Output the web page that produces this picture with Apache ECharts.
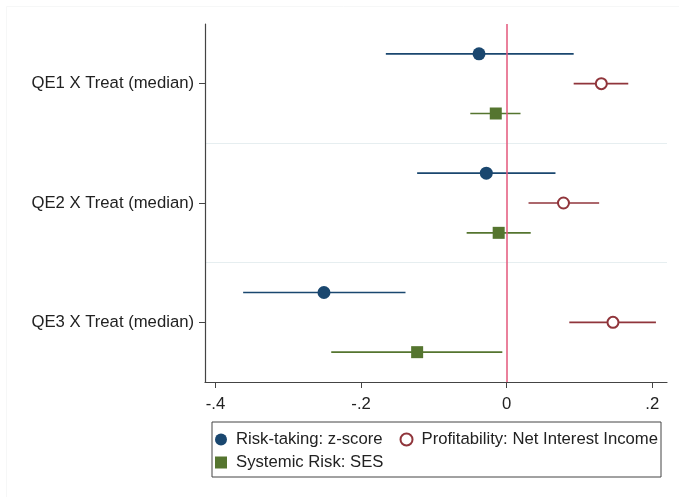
<!DOCTYPE html>
<html>
<head>
<meta charset="utf-8">
<script src="https://cdn.jsdelivr.net/npm/echarts@6/dist/echarts.min.js"></script>
<style>
  html, body { margin: 0; padding: 0; background: #fff; }
  #main { width: 679px; height: 497px; }
</style>
</head>
<body>
<div id="main"></div>
<script>
// categories (top to bottom)
const categories = ['QE1 X Treat (median)', 'QE2 X Treat (median)', 'QE3 X Treat (median)'];

// Risk-taking: z-score
const zEst = [-0.038, -0.028, -0.251];
const zLo = [-0.166, -0.123, -0.362];
const zHi = [0.092, 0.067, -0.139];

// Profitability: Net Interest Income
const niiEst = [0.130, 0.078, 0.146];
const niiLo = [0.092, 0.030, 0.086];
const niiHi = [0.167, 0.127, 0.205];

// Systemic Risk: SES
const sesEst = [-0.015, -0.011, -0.123];
const sesLo = [-0.050, -0.055, -0.241];
const sesHi = [0.019, 0.033, -0.006];

const xTicks = [-0.4, -0.2, 0, 0.2];
const xTickLabels = ['-.4', '-.2', '0', '.2'];

const FONT = '"Liberation Sans", Arial, sans-serif';
const FS = 16.7;
const NAVY = '#1a476f';
const MAROON = '#90353b';
const GREEN = '#55752f';

// y position of category i, shifted for each series
const yPos = (i, off) => i + 1 + off;

const ciData = (lo, hi, off) => lo.map((v, i) => [v, hi[i], yPos(i, off)]);
const ptData = (est, off) => est.map((v, i) => [v, yPos(i, off)]);

const ciSeries = (lo, hi, off, color) => ({
  type: 'custom',
  silent: true,
  z: 2,
  encode: { x: [0, 1], y: 2 },
  data: ciData(lo, hi, off),
  renderItem: (params, api) => {
    const y = api.value(2);
    const p1 = api.coord([api.value(0), y]);
    const p2 = api.coord([api.value(1), y]);
    return {
      type: 'line',
      shape: { x1: p1[0], y1: p1[1], x2: p2[0], y2: p2[1] },
      style: { stroke: color, lineWidth: 1.6 }
    };
  }
});

const chart = echarts.init(document.getElementById('main'));

chart.setOption({
  animation: false,
  backgroundColor: '#fff',
  textStyle: { fontFamily: FONT },
  grid: { left: 205, right: 12, top: 24, bottom: 115 },
  xAxis: {
    type: 'value',
    z: 10,
    min: -0.4144,
    max: 0.2202,
    axisLine: { show: true, onZero: false, lineStyle: { color: '#444', width: 1.2 } },
    axisTick: { show: true, length: 6, customValues: xTicks, lineStyle: { color: '#444' } },
    axisLabel: {
      customValues: xTicks,
      margin: 14,
      fontSize: FS,
      color: '#222',
      fontFamily: FONT,
      formatter: (v) => xTickLabels[xTicks.findIndex((t) => Math.abs(t - v) < 1e-9)]
    },
    splitLine: { show: false }
  },
  yAxis: {
    type: 'value',
    z: 10,
    min: 0.5,
    max: 3.5,
    inverse: true,
    axisLine: { show: true, onZero: false, lineStyle: { color: '#444', width: 1.2 } },
    axisTick: { show: true, length: 6, customValues: [1, 2, 3], lineStyle: { color: '#444' } },
    axisLabel: {
      customValues: [1, 2, 3],
      margin: 11,
      fontSize: FS,
      color: '#222',
      fontFamily: FONT,
      formatter: (v) => categories[Math.round(v) - 1]
    },
    splitLine: { show: false }
  },
  legend: [
    {
      data: ['Risk-taking: z-score', 'Profitability: Net Interest Income'],
      orient: 'horizontal',
      left: 210,
      top: 426,
      itemWidth: 12,
      itemHeight: 12,
      itemGap: 17,
      selectedMode: false,
      textStyle: { fontSize: FS, color: '#222', fontFamily: FONT, padding: [0, 0, 0, 4] }
    },
    {
      data: ['Systemic Risk: SES'],
      orient: 'horizontal',
      left: 210,
      top: 449,
      itemWidth: 12,
      itemHeight: 12,
      selectedMode: false,
      textStyle: { fontSize: FS, color: '#222', fontFamily: FONT, padding: [0, 0, 0, 4] }
    }
  ],
  graphic: [
    {
      type: 'rect',
      shape: { x: 6.5, y: 6.5, width: 700, height: 600 },
      style: { fill: 'none', stroke: '#f6f7f7', lineWidth: 1 },
      silent: true
    },
    {
      type: 'rect',
      shape: { x: 212, y: 422, width: 449, height: 55 },
      style: { fill: 'none', stroke: '#444', lineWidth: 1 },
      silent: true
    }
  ],
  series: [
    {
      // separators between groups
      type: 'line',
      data: [],
      silent: true,
      z: 0,
      markLine: {
        silent: true,
        symbol: 'none',
        label: { show: false },
        lineStyle: { color: '#e6eef0', width: 1.2, type: 'solid' },
        data: [{ yAxis: 1.5 }, { yAxis: 2.5 }]
      }
    },
    ciSeries(zLo, zHi, -0.25, NAVY),
    ciSeries(niiLo, niiHi, 0, MAROON),
    ciSeries(sesLo, sesHi, 0.25, GREEN),
    {
      // zero reference line
      type: 'line',
      data: [],
      silent: true,
      z: 3,
      markLine: {
        silent: true,
        symbol: 'none',
        label: { show: false },
        lineStyle: { color: '#e3577b', width: 1.5, type: 'solid' },
        data: [{ xAxis: 0 }]
      }
    },
    {
      name: 'Risk-taking: z-score',
      type: 'scatter',
      symbol: 'circle',
      symbolSize: 13,
      z: 4,
      itemStyle: { color: NAVY, opacity: 1 },
      data: ptData(zEst, -0.25)
    },
    {
      name: 'Profitability: Net Interest Income',
      type: 'scatter',
      symbol: 'emptyCircle',
      symbolSize: 11,
      z: 4,
      itemStyle: { color: MAROON, borderColor: MAROON, borderWidth: 1.6, opacity: 1 },
      data: ptData(niiEst, 0)
    },
    {
      name: 'Systemic Risk: SES',
      type: 'scatter',
      symbol: 'rect',
      symbolSize: 12,
      z: 4,
      itemStyle: { color: GREEN, opacity: 1 },
      data: ptData(sesEst, 0.25)
    }
  ]
});
</script>
</body>
</html>
